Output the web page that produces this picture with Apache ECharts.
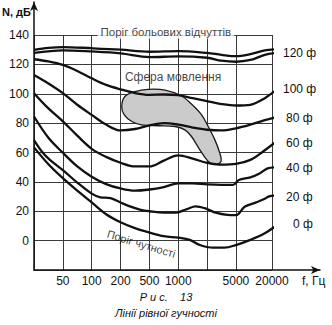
<!DOCTYPE html>
<html>
<head>
<meta charset="utf-8">
<script src="https://cdn.jsdelivr.net/npm/echarts@6/dist/echarts.min.js"></script>
<style>
  html, body { margin: 0; padding: 0; background: #fff; }
  #chart { width: 332px; height: 325px; }
</style>
</head>
<body>
<div id="chart"></div>
<script>
// Frequency axis: positions along the axis and the tick labels at them
const freqPositions = [0, 1, 2, 3, 4, 5, 6, 7, 8.25];
const freqLabels    = ['', '50', '100', '200', '500', '1000', '', '5000', '20000'];

// Sound level ticks, dB
const levelMin = -20, levelMax = 140, levelStep = 20;

// Equal-loudness contours: [axis position, level dB]
const painThreshold = [[0,129.8],[0.5,131.2],[1,131.8],[2,131],[3,130],[4,128.6],[5,129],[6,127.8],[6.5,126.5],[7,125.6],[7.5,127],[8,129.5],[8.45,130.3]];
const phon120 = [[0,127.8],[1,129.6],[2,128.8],[3,127.5],[4,125],[5,125.4],[6,124.5],[6.5,122.5],[7,121.8],[7.5,123],[8,126.5],[8.45,128]];
const phon100 = [[0,123.5],[0.5,122],[1,119.6],[1.5,115.5],[2,110.5],[2.5,106],[3,103],[3.5,100.5],[4,99.3],[4.5,99.5],[5,99],[5.5,97],[6,95],[6.5,93],[7,92],[7.5,92.5],[8,97],[8.45,103.5]];
const phon80  = [[0,112.8],[0.5,107],[1,100.4],[1.5,92.5],[2,85.6],[2.5,79],[3,75],[3.5,76],[4,78.5],[4.5,80],[5,79],[5.5,77],[6,75.5],[6.5,75],[7,76.5],[7.5,79],[8,82],[8.45,84.3]];
const phon60  = [[0,100.4],[0.5,90],[1,81.2],[1.5,71.5],[2,62.5],[2.5,57],[3,53],[3.5,50.5],[4,50.5],[4.5,54.5],[5,58],[5.5,55.8],[6,53],[6.5,51.8],[7,52.3],[7.5,55],[8,61.5],[8.45,68.3]];
const phon40  = [[0,84.5],[0.5,70],[1,59.8],[1.5,50.5],[2,43.5],[2.5,38.5],[3,35.5],[3.5,34],[4,34.8],[4.5,36.5],[5,39],[5.5,39],[6,38.3],[6.5,38],[6.9,38],[7.1,41.3],[7.5,43],[7.8,45.5],[8.1,49.2],[8.45,50]];
const phon20  = [[0,68.5],[0.3,60],[0.55,55],[1,48],[1.5,39.5],[2,32],[2.3,29.5],[2.65,29],[3,26],[3.3,23.5],[3.7,21],[4,20],[4.5,19],[4.9,19],[5.3,21.5],[5.6,23.3],[6,21.5],[6.3,19],[6.7,17.5],[7,17.3],[7.3,23],[7.7,26],[8,28.5],[8.15,30.2],[8.45,30.8]];
const hearingThreshold = [[0,63.5],[0.5,52],[1,42.5],[1.5,34],[2,26],[2.5,18],[3,12.5],[3.5,8.5],[4,5.5],[4.5,3],[5,2],[5.4,0.5],[5.75,-3],[6.2,-4.8],[6.6,-4.8],[7,-3],[7.5,0.5],[8,5],[8.45,11]];

// Speech region outline: [axis position, level dB]
const speechArea = [[3.04,91.3],[3.15,98.1],[3.5,101.5],[3.96,103],[4.54,102.5],[5.12,98.5],[5.52,91.8],[5.81,85.6],[6.04,77.7],[6.27,68.6],[6.44,59.6],[6.48,53.9],[6.27,51.7],[6.04,53.9],[5.75,61.8],[5.46,70.9],[5.23,75.4],[4.89,77.7],[4.31,78.2],[3.73,78.8],[3.39,81.1],[3.13,85.6]];

const contourNames = ['120 ф', '100 ф', '80 ф', '60 ф', '40 ф', '20 ф', '0 ф'];

const FONT = '"Liberation Sans", Arial, sans-serif';
const INK = '#111';

const chart = echarts.init(document.getElementById('chart'), null, { renderer: 'svg' });

function contour(name, data, offset, withLabel) {
  return {
    name: name,
    type: 'line',
    xAxisIndex: 0, yAxisIndex: 0,
    data: data,
    smooth: 0.35,
    showSymbol: false,
    clip: false,
    z: 3,
    lineStyle: { color: INK, width: 2.3 },
    endLabel: withLabel ? {
      show: true,
      formatter: '{a}',
      offset: offset,
      color: INK,
      fontFamily: FONT,
      fontSize: 12
    } : { show: false },
    silent: true
  };
}

const option = {
  backgroundColor: '#fff',
  animation: false,
  grid: [
    { left: 34, top: 35, width: 238, height: 235 },
    { left: 34, top: 2, right: 12, bottom: 55 }
  ],
  xAxis: [
    {
      type: 'value', gridIndex: 0, min: 0, max: 8.25,
      axisLine: { show: false },
      axisTick: { show: false, customValues: freqPositions },
      splitLine: { show: true, lineStyle: { color: '#3a3a3a', width: 1 } },
      axisLabel: {
        customValues: freqPositions.filter((p, i) => freqLabels[i] !== ''),
        formatter: v => freqLabels[freqPositions.indexOf(v)] || '',
        color: INK, fontFamily: FONT, fontSize: 12, margin: 5
      }
    },
    {
      type: 'value', gridIndex: 1, min: 0, max: 1,
      axisLine: { show: true, symbol: ['none', 'arrow'], symbolSize: [6, 9], lineStyle: { color: INK, width: 1.5 } },
      axisTick: { show: false }, axisLabel: { show: false }, splitLine: { show: false }
    }
  ],
  yAxis: [
    {
      type: 'value', gridIndex: 0, min: levelMin, max: levelMax, interval: levelStep,
      axisLine: { show: false },
      axisTick: { show: false },
      splitLine: { show: true, lineStyle: { color: '#3a3a3a', width: 1 } },
      axisLabel: {
        formatter: v => (v < 0 ? '' : String(v)),
        color: INK, fontFamily: FONT, fontSize: 12, margin: 5
      }
    },
    {
      type: 'value', gridIndex: 1, min: 0, max: 1,
      axisLine: { show: true, symbol: ['none', 'arrow'], symbolSize: [6, 9], lineStyle: { color: INK, width: 1.5 } },
      axisTick: { show: false }, axisLabel: { show: false }, splitLine: { show: false }
    }
  ],
  graphic: [
    { type: 'text', left: 2, top: 6, style: { text: 'N, дБ', font: 'bold 11px ' + FONT, fill: INK } },
    { type: 'text', left: 302, top: 275, style: { text: 'f, Гц', font: '12px ' + FONT, fill: INK } },
    { type: 'text', left: 'center', top: 291, style: { text: 'Р и с.    13', font: 'italic 11px ' + FONT, fill: INK } },
    { type: 'text', left: 'center', top: 307, style: { text: 'Лінії рівної гучності', font: 'italic 11px ' + FONT, fill: INK } }
  ],
  series: [
    {
      name: 'Сфера мовлення',
      type: 'custom',
      xAxisIndex: 0, yAxisIndex: 0,
      data: [0],
      clip: false,
      z: 2,
      silent: true,
      renderItem: function (params, api) {
        return {
          type: 'polygon',
          shape: { points: speechArea.map(p => api.coord(p)), smooth: 0.35 },
          style: { fill: '#cbcbcb', stroke: '#1a1a1a', lineWidth: 1.3 }
        };
      }
    },
    contour('Поріг больових відчуттів', painThreshold, [0, 0], false),
    contour(contourNames[0], phon120, [1, 0], true),
    contour(contourNames[1], phon100, [1, -2], true),
    contour(contourNames[2], phon80, [4, 0], true),
    contour(contourNames[3], phon60, [4, 0], true),
    contour(contourNames[4], phon40, [4, 0], true),
    contour(contourNames[5], phon20, [4, 1], true),
    contour(contourNames[6], hearingThreshold, [11, -3], true),
    {
      name: 'notes',
      type: 'scatter',
      xAxisIndex: 0, yAxisIndex: 0,
      symbolSize: 0,
      silent: true,
      z: 5,
      clip: false,
      data: [
        { value: [4.57, 142.2], label: { show: true, position: 'inside', formatter: 'Поріг больових відчуттів', backgroundColor: '#fff', padding: [1, 3], color: INK, fontFamily: FONT, fontSize: 11.5 } },
        { value: [4.82, 111.5], label: { show: true, position: 'inside', formatter: 'Сфера мовлення', color: INK, fontFamily: FONT, fontSize: 12 } },
        { value: [3.72, -2.2], label: { show: true, position: 'inside', formatter: 'Поріг чутності', rotate: -17, color: INK, fontFamily: FONT, fontSize: 11 } }
      ]
    }
  ]
};

chart.setOption(option);
</script>
</body>
</html>
